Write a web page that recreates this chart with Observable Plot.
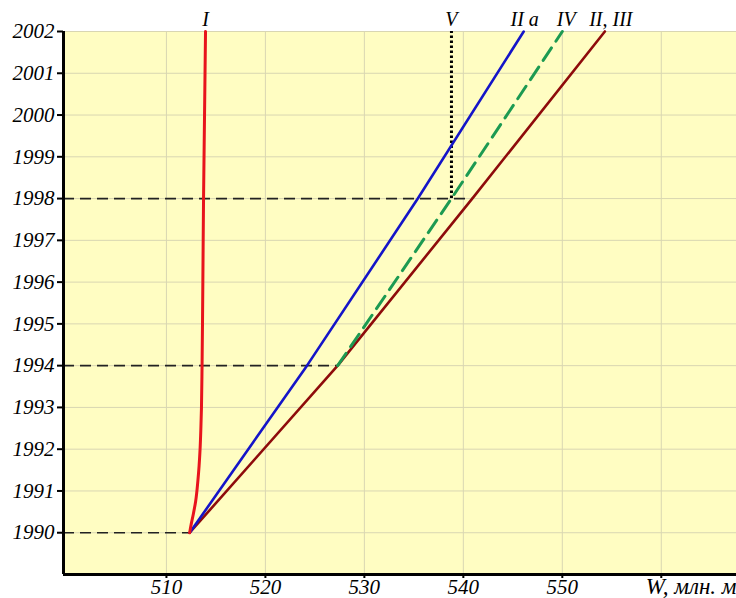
<!DOCTYPE html>
<html><head><meta charset="utf-8">
<script src="https://cdn.jsdelivr.net/npm/d3@7"></script>
<script src="https://cdn.jsdelivr.net/npm/@observablehq/plot@0.6"></script>
<style>body{margin:0;background:#fff} svg{display:block}</style>
</head><body><div id="chart"></div>
<script>
// Curve I (red)
const yearsI = [1990, 1990.2, 1990.45, 1990.75, 1991.25, 1991.6, 1992, 1992.5, 1993, 1994, 1996, 1998, 2000, 2002];
const wI     = [512.35, 512.5, 512.72, 512.95, 513.18, 513.3, 513.4, 513.48, 513.54, 513.6, 513.68, 513.75, 513.85, 513.95];
// Curve II a (blue)
const yearsIIa = [1990, 1994, 1998, 2002];
const wIIa     = [512.35, 524.2, 535.4, 546.1];
// Curve II, III (dark red)
const yearsIII = [1990, 1994, 1998, 2002];
const wIII     = [512.35, 527.3, 540.9, 554.3];
// Curve IV (green dashed)
const yearsIV = [1994, 1998, 2002];
const wIV     = [527.3, 538.8, 550.0];
// V (dotted vertical)
const yearsV = [1998, 2002];
const wV = 538.8;
// dashed guide lines
const guideYears = [1990, 1994, 1998];
const guideW     = [512.35, 527.3, 540.9];
// top labels
const topLabels = ["I", "V", "II a", "IV", "II, III"];
const topLabelW = [513.95, 538.8, 546.2, 550.4, 554.9];
// ticks
const xTicks = [510, 520, 530, 540, 550, 560];
const yTicks = [1990, 1991, 1992, 1993, 1994, 1995, 1996, 1997, 1998, 1999, 2000, 2001, 2002];
const xLabel = "W, млн. м";

const xMin = 499.6, xMax = 567.6, yMin = 1989, yMax = 2002;
const FONT = "'Liberation Serif', 'Times New Roman', serif";

const toRows = (ys, ws) => ys.map((y, i) => ({y, w: ws[i]}));

const chart = Plot.plot({
  width: 736, height: 598,
  marginLeft: 63, marginRight: 0, marginTop: 31, marginBottom: 24,
  style: {fontFamily: FONT, fontStyle: "italic", fontSize: "21px", background: "#fff", color: "#000", overflow: "visible"},
  x: {domain: [xMin, xMax]},
  y: {domain: [yMin, yMax]},
  marks: [
    Plot.frame({fill: "#FFFDC2", stroke: null}),
    Plot.gridX({ticks: xTicks, stroke: "#D9D6B2", strokeOpacity: 1, strokeWidth: 1}),
    Plot.gridY({ticks: yTicks, stroke: "#D9D6B2", strokeOpacity: 1, strokeWidth: 1}),
    Plot.axisY({ticks: yTicks, tickSize: 6, tickPadding: 3, tickFormat: d => String(d), strokeWidth: 2, label: null, fontSize: 21, fontFamily: FONT}),
    Plot.axisX({ticks: xTicks, tickSize: 4, tickPadding: 1, tickFormat: d => d === 560 ? "" : String(d), strokeWidth: 2, label: null, fontSize: 21, fontFamily: FONT}),
    Plot.ruleY(toRows(guideYears, guideW), {y: "y", x1: xMin, x2: "w", stroke: "#222", strokeWidth: 1.6, strokeDasharray: "11,6"}),
    Plot.ruleX([wV], {x: d => d, y1: yearsV[0], y2: yearsV[1], stroke: "#000", strokeWidth: 3, strokeDasharray: "2.5,2.5"}),
    Plot.line(toRows(yearsIII, wIII), {x: "w", y: "y", stroke: "#8E0B0B", strokeWidth: 2.6}),
    Plot.line(toRows(yearsIV, wIV), {x: "w", y: "y", stroke: "#1C9A52", strokeWidth: 3, strokeDasharray: "15,8"}),
    Plot.line(toRows(yearsIIa, wIIa), {x: "w", y: "y", stroke: "#1414C8", strokeWidth: 2.6}),
    Plot.line(toRows(yearsI, wI), {x: "w", y: "y", stroke: "#E8141C", strokeWidth: 3, curve: "monotone-y"}),
    Plot.ruleX([xMin], {stroke: "#000", strokeWidth: 3}),
    Plot.ruleY([yMin], {stroke: "#000", strokeWidth: 3}),
    Plot.text(topLabels.map((t, i) => ({t, w: topLabelW[i]})), {x: "w", y: () => yMax, text: "t", dy: -12, lineAnchor: "middle", fontSize: 20, fontFamily: FONT}),
    Plot.text([xLabel], {frameAnchor: "bottom-right", text: d => d, textAnchor: "end", dy: 12, lineAnchor: "middle", fontSize: 23, fontFamily: FONT})
  ]
});
document.getElementById("chart").append(chart);
</script>
</body></html>
